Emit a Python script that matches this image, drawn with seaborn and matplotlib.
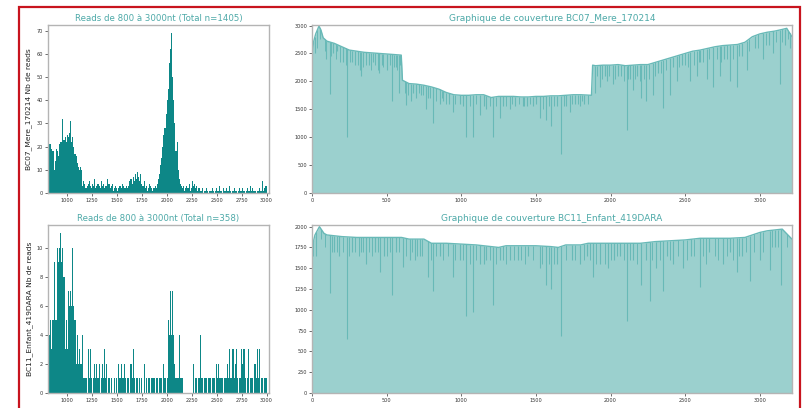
import numpy as np
import pandas as pd
import matplotlib
matplotlib.use("Agg")
import matplotlib.pyplot as plt
import matplotlib.patches as patches
import seaborn as sns

sns.set_style("white")
plt.rcParams['font.family'] = ['DejaVu Sans']

# histogram bins: 200 bins of 11 nt from 800 to 3000
bin_edges = np.linspace(800, 3000, 201)
bin_centers = (bin_edges[:-1] + bin_edges[1:]) / 2

counts_bc07 = [20, 24, 21, 21, 19, 18, 10, 14, 19, 18,
               16, 21, 22, 22, 32, 23, 24, 22, 25, 24,
               26, 31, 22, 24, 20, 17, 16, 13, 11, 10, 11, 10,
               3, 5, 4, 2, 3, 4, 5, 3, 2, 4, 3, 6, 2, 3, 4, 3, 2, 5, 3, 4,
               2, 3, 3, 6, 4, 2, 3, 4, 1, 2, 3, 2, 1, 2, 3, 2, 4, 3, 2, 2, 3,
               2, 3, 5, 6, 4, 7, 5, 8, 6, 9, 7, 5, 8, 4,
               3, 5, 2, 3, 1, 2, 4, 3, 2, 1, 2, 3, 2, 4,
               6, 8, 12, 15, 20, 25, 28, 34, 40, 45, 56, 62, 69, 50, 40, 30, 18, 22, 10, 6, 4, 3,
               2, 3, 1, 2, 3, 2, 4, 1, 2, 5, 3, 4, 2, 3,
               1, 2, 1, 1, 2, 0, 1, 1, 2, 1, 0, 1, 1, 2,
               1, 0, 1, 2, 1, 1, 3, 1, 0, 2, 1, 1, 2, 1,
               1, 3, 1, 0, 1, 2, 1, 1, 0, 1, 2, 1, 1, 2,
               1, 0, 1, 2, 1, 1, 3, 1, 2, 1, 1, 0, 1, 1,
               2, 1, 1, 5, 1, 2, 3]

counts_bc11 = [4, 5, 4, 5, 3, 5, 9, 5, 5, 10,
               9, 10, 11, 9, 10, 8, 3, 5, 3, 7,
               6, 7, 6, 10, 6, 5, 2, 4, 2, 3,
               2, 2, 4, 1, 1, 1, 0, 3, 1, 3,
               1, 0, 1, 2, 1, 2, 1, 2, 0, 1,
               2, 1, 3, 1, 2, 0, 1, 0, 1, 0,
               0, 1, 0, 1, 0, 2, 1, 2, 1, 1,
               2, 1, 0, 1, 1, 0, 2, 1, 3, 1,
               0, 1, 1, 0, 1, 0, 1, 0, 2, 0,
               1, 0, 1, 1, 0, 1, 1, 1, 0, 1,
               1, 0, 1, 1, 1, 0, 2, 1, 0, 1,
               5, 4, 7, 4, 7, 4, 2, 1, 1, 1,
               4, 1, 1, 1, 0, 0, 0, 0, 0, 0,
               0, 0, 0, 2, 0, 1, 1, 0, 1, 4,
               1, 1, 0, 1, 1, 1, 0, 1, 1, 0,
               1, 1, 1, 0, 2, 1, 2, 1, 1, 1,
               0, 1, 1, 1, 2, 1, 3, 1, 1, 3,
               1, 2, 3, 1, 0, 1, 1, 3, 2, 3,
               1, 0, 1, 3, 0, 1, 1, 1, 0, 2,
               1, 3, 1, 3, 0, 1, 1, 0, 1, 1]

# coverage profile (position, depth) for BC07
prof07_x = [0, 10, 25, 47, 60, 75, 100, 150, 200, 250, 300, 350, 400, 450, 500, 550, 598,
            606, 650, 700, 750, 800, 850, 900, 950, 1000, 1050, 1100, 1150, 1200, 1250,
            1300, 1350, 1400, 1450, 1500, 1550, 1600, 1650, 1700, 1750, 1800, 1872,
            1880, 1900, 1950, 2000, 2050, 2100, 2150, 2200, 2250, 2300, 2350, 2400, 2450,
            2500, 2550, 2600, 2650, 2700, 2750, 2800, 2850, 2900, 2950, 3000, 3050, 3100,
            3150, 3180, 3215]
prof07_y = [2400, 2700, 2850, 2990, 2920, 2780, 2720, 2680, 2620, 2560, 2540, 2520, 2510,
            2500, 2490, 2480, 2470, 2020, 1960, 1950, 1930, 1900, 1860, 1800, 1760, 1750,
            1750, 1760, 1760, 1710, 1730, 1730, 1730, 1720, 1720, 1730, 1730, 1740, 1740,
            1750, 1760, 1760, 1750, 2290, 2280, 2290, 2290, 2300, 2280, 2290, 2300, 2300,
            2340, 2380, 2420, 2460, 2500, 2540, 2560, 2590, 2620, 2640, 2650, 2660, 2700,
            2800, 2850, 2880, 2900, 2930, 2950, 2800]
# deep dips in coverage (position, lowest depth)
dips07_x = [96, 118, 237, 320, 330, 450, 500, 537, 632, 666, 700, 767, 811, 855, 945, 990,
            1035, 1080, 1124, 1169, 1213, 1258, 1325, 1414, 1481, 1526, 1570, 1604, 1670,
            1727, 1794, 1895, 1928, 1973, 2017, 2107, 2151, 2207, 2240, 2285, 2352, 2397,
            2442, 2531, 2576, 2643, 2688, 2732, 2800, 2845, 2911, 3023, 3090, 3134,
            20, 140, 170, 210, 270, 290, 380, 410, 470, 560, 580, 680, 730, 780, 880,
            920, 1010, 1150, 1280, 1360, 1440, 1500, 1640, 1700, 1760, 1820, 1960, 2050,
            2130, 2180, 2320, 2420, 2480, 2600, 2760, 2880, 2970, 3060, 3170, 3200]
dips07_lo = [2400, 1780, 1010, 2200, 2100, 2150, 2200, 1650, 1580, 1650, 1700, 1500, 1250,
             1600, 1450, 1600, 1000, 1000, 1400, 1500, 1000, 1350, 1500, 1550, 1550, 1350,
             1300, 1200, 700, 1450, 1550, 1800, 1900, 2000, 1950, 1130, 1850, 1700, 1650,
             1750, 1520, 1750, 2000, 2000, 2100, 2050, 1900, 2100, 2000, 1900, 2200, 2400,
             2500, 1950,
             2500, 2500, 2550, 2350, 2350, 2300, 2300, 2350, 2300, 2250, 1800, 1800, 1750,
             1700, 1650, 1600, 1550, 1550, 1550, 1550, 1550, 1600, 1550, 1550, 1600, 1600,
             2100, 2100, 2050, 2100, 2150, 2250, 2300, 2350, 2400, 2450, 2600, 2650, 2650,
             2600]
# shallow dips giving the ragged top edge
fuzz07_x = [35, 55, 85, 130, 160, 190, 225, 255, 310, 345, 365, 395, 425, 440, 475, 520,
            550, 570, 590, 620, 645, 715, 745, 790, 830, 870, 900, 960, 1060, 1100, 1190,
            1230, 1300, 1340, 1390, 1420, 1460, 1550, 1590, 1620, 1690, 1740, 1780, 1810,
            1850, 1910, 1940, 1990, 2030, 2070, 2090, 2120, 2165, 2195, 2225, 2260, 2300,
            2340, 2370, 2460, 2500, 2520, 2560, 2590, 2620, 2660, 2710, 2740, 2780, 2820,
            2860, 2930, 2990, 3040, 3110, 3150, 3190]
fuzz07_lo = [2600, 2750, 2550, 2450, 2400, 2350, 2300, 2350, 2300, 2250, 2300, 2200, 2300,
             2200, 2250, 2300, 2250, 2200, 2300, 1800, 1750, 1800, 1750, 1700, 1650, 1700,
             1600, 1600, 1550, 1600, 1550, 1550, 1550, 1600, 1600, 1550, 1600, 1500, 1550,
             1550, 1550, 1600, 1600, 1650, 1600, 2100, 2050, 2100, 2050, 2100, 2000, 2050,
             2050, 2000, 2050, 2050, 2100, 2150, 2200, 2250, 2300, 2250, 2300, 2350, 2350,
             2400, 2400, 2350, 2400, 2400, 2450, 2550, 2600, 2650, 2700, 2700, 2750]

# coverage profile (position, depth) for BC11
prof11_x = [0, 20, 50, 80, 100, 200, 300, 400, 500, 600, 650, 750, 800, 900, 1000, 1100,
            1200, 1250, 1300, 1400, 1500, 1600, 1650, 1700, 1800, 1850, 1950, 2100, 2200,
            2300, 2400, 2500, 2600, 2700, 2800, 2900, 2950, 3000, 3050, 3100, 3150, 3215]
prof11_y = [1750, 1900, 2000, 1920, 1900, 1880, 1870, 1870, 1870, 1870, 1850, 1850, 1800,
            1800, 1790, 1780, 1760, 1750, 1770, 1770, 1770, 1760, 1750, 1780, 1780, 1800,
            1800, 1800, 1800, 1820, 1830, 1840, 1860, 1860, 1860, 1870, 1900, 1930, 1950,
            1960, 1970, 1850]
dips11_x = [118, 237, 364, 454, 537, 609, 654, 722, 778, 811, 945, 1035, 1080, 1124, 1169,
            1213, 1325, 1526, 1570, 1604, 1670, 1794, 1884, 1928, 1984, 2107, 2207, 2263,
            2307, 2352, 2419, 2486, 2598, 2755, 2845, 2933, 3000, 3067, 3145,
            30, 150, 180, 270, 330, 420, 480, 560, 690, 860, 990, 1150, 1260, 1380, 1450,
            1640, 1740, 1840, 2020, 2060, 2150, 2240, 2380, 2540, 2660, 2800, 2880, 3100]
dips11_lo = [1200, 650, 1550, 1450, 1180, 1520, 1600, 1650, 1400, 1230, 1400, 930, 970,
             1550, 1600, 1060, 1600, 1500, 1300, 1250, 680, 1550, 1400, 1550, 1500, 870,
             1300, 1100, 1500, 1230, 1550, 1500, 1270, 1550, 1450, 1350, 1600, 1480, 1300,
             1650, 1700, 1650, 1700, 1700, 1700, 1650, 1700, 1600, 1650, 1600, 1550, 1600,
             1600, 1650, 1550, 1600, 1650, 1600, 1650, 1600, 1600, 1650, 1650, 1700, 1700,
             1650, 1750]
fuzz11_x = [10, 60, 90, 135, 165, 210, 250, 285, 315, 345, 380, 400, 440, 500, 520, 580,
            630, 670, 705, 740, 800, 830, 880, 910, 960, 1010, 1060, 1100, 1190, 1230,
            1280, 1300, 1350, 1400, 1430, 1480, 1540, 1590, 1620, 1700, 1760, 1820, 1860,
            1900, 1960, 2000, 2040, 2090, 2130, 2180, 2280, 2330, 2400, 2450, 2510, 2560,
            2620, 2640, 2700, 2720, 2780, 2820, 2860, 2910, 2960, 3020, 3080, 3120, 3180]
fuzz11_lo = [1650, 1850, 1750, 1700, 1700, 1700, 1650, 1700, 1650, 1700, 1700, 1650, 1700,
             1650, 1700, 1700, 1650, 1700, 1650, 1650, 1600, 1650, 1600, 1650, 1600, 1600,
             1550, 1600, 1600, 1550, 1600, 1550, 1600, 1600, 1550, 1600, 1550, 1550, 1550,
             1600, 1600, 1600, 1600, 1550, 1550, 1600, 1650, 1600, 1600, 1550, 1600, 1600,
             1600, 1650, 1600, 1650, 1650, 1550, 1650, 1600, 1650, 1600, 1650, 1700, 1700,
             1700, 1750, 1750, 1750]

hist_color = "#0d8787"
fill_color = "#9bd0ce"
line_color = "#68b9b7"
title_color = "#4da9a8"
spine_color = "#b4b4b4"

fig = plt.figure(figsize=(8.12, 4.08), dpi=100)
fig.patch.set_facecolor("white")


def style_axes(ax):
    for s in ax.spines.values():
        s.set_color(spine_color)
        s.set_linewidth(1.0)
    ax.tick_params(axis="both", labelsize=3.6, length=2, width=0.5,
                   colors="#333333", pad=1.5, bottom=True, left=True)
    ax.grid(False)


def draw_hist(rect, counts, total, label, yticks):
    ax = fig.add_axes(rect)
    df = pd.DataFrame({"longueur": bin_centers, "n": counts})
    sns.histplot(data=df, x="longueur", weights="n", binwidth=11, binrange=(800, 3000),
                 color=hist_color, alpha=1.0, linewidth=0, ax=ax)
    ax.set_xlim(810, 3025)
    ax.set_ylim(0, max(counts) * 1.05)
    ax.set_xticks([1000, 1250, 1500, 1750, 2000, 2250, 2500, 2750, 3000])
    ax.set_yticks(yticks)
    ax.set_title("Reads de 800 à 3000nt (Total n=%d)" % total, fontsize=6.2,
                 color=title_color, pad=2.5)
    ax.set_ylabel(label + " Nb de reads", fontsize=5.4, color="#222222", labelpad=3)
    ax.set_xlabel("")
    style_axes(ax)
    return ax


def draw_cov(rect, px, py, dx, dlo, fx, flo, name, ymax, yticks):
    ax = fig.add_axes(rect)
    ax.fill_between(px, py, 0, color=fill_color, linewidth=0)
    sns.lineplot(x=px, y=py, color=line_color, linewidth=1.0, ax=ax)
    ax.vlines(fx, flo, np.interp(fx, px, py), color=line_color, linewidth=0.7)
    ax.vlines(dx, dlo, np.interp(dx, px, py), color=line_color, linewidth=0.8)
    ax.set_xlim(0, 3215)
    ax.set_ylim(0, ymax)
    ax.set_xticks([0, 500, 1000, 1500, 2000, 2500, 3000])
    ax.set_yticks(yticks)
    ax.set_title("Graphique de couverture " + name, fontsize=6.5,
                 color=title_color, pad=2.5)
    ax.set_xlabel("")
    ax.set_ylabel("")
    style_axes(ax)
    return ax


draw_hist([0.0591, 0.527, 0.2722, 0.4118], counts_bc07, 1405, "BC07_Mere_170214",
          [0, 10, 20, 30, 40, 50, 60, 70])
draw_hist([0.0591, 0.0368, 0.2722, 0.4118], counts_bc11, 358, "BC11_Enfant_419DARA",
          [0, 2, 4, 6, 8, 10])
draw_cov([0.3842, 0.527, 0.5911, 0.4118], prof07_x, prof07_y, dips07_x, dips07_lo,
         fuzz07_x, fuzz07_lo, "BC07_Mere_170214", 3010,
         [0, 500, 1000, 1500, 2000, 2500, 3000])
draw_cov([0.3842, 0.0368, 0.5911, 0.4118], prof11_x, prof11_y, dips11_x, dips11_lo,
         fuzz11_x, fuzz11_lo, "BC11_Enfant_419DARA", 2020,
         [0, 250, 500, 750, 1000, 1250, 1500, 1750, 2000])

# red frame around the figure
fig.patches.append(patches.Rectangle((19 / 812, -0.02), (800 - 19) / 812, 1.02 - 7 / 408,
                                     transform=fig.transFigure, fill=False,
                                     edgecolor="#c8141e", linewidth=1.6))

fig.savefig("out.png", dpi=100)
